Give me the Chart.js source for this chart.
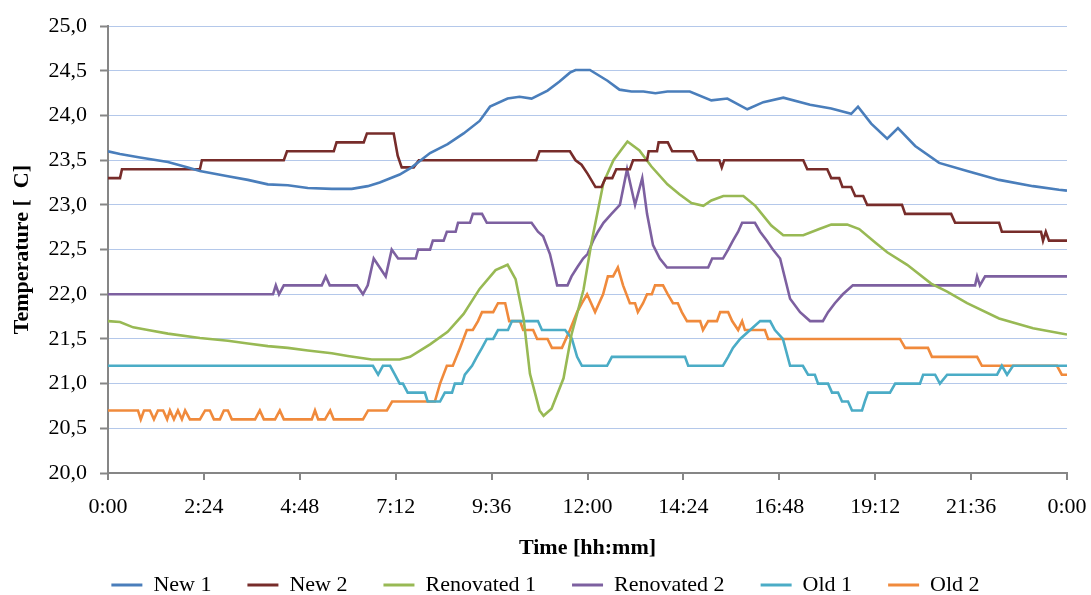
<!DOCTYPE html>
<html>
<head>
<meta charset="utf-8">
<script src="https://cdn.jsdelivr.net/npm/chart.js@4.4.1/dist/chart.umd.min.js"></script>
<style>
html,body{margin:0;padding:0;background:#fff;}
#wrap{width:1091px;height:595px;}
</style>
</head>
<body>
<div id="wrap"><canvas id="c" width="1091" height="595"></canvas></div>
<script>
// ---- data: [hour of day, temperature °C] ----
const seriesNames = ['New 1', 'New 2', 'Renovated 1', 'Renovated 2', 'Old 1', 'Old 2'];

const new1 = [[0,23.60],[0.3,23.57],[0.8,23.53],[1.5,23.48],[2.0,23.42],[2.3,23.38],[3.0,23.32],[3.5,23.28],[4.0,23.23],[4.5,23.22],[5.0,23.19],[5.6,23.18],[6.1,23.18],[6.5,23.21],[6.8,23.25],[7.3,23.34],[7.6,23.42],[8.06,23.58],[8.5,23.68],[8.9,23.80],[9.3,23.94],[9.56,24.10],[10.0,24.19],[10.3,24.21],[10.6,24.19],[11.0,24.28],[11.3,24.38],[11.56,24.48],[11.7,24.51],[12.06,24.51],[12.5,24.39],[12.8,24.29],[13.1,24.27],[13.4,24.27],[13.7,24.25],[14.0,24.27],[14.56,24.27],[15.1,24.17],[15.5,24.19],[16.0,24.07],[16.4,24.15],[16.9,24.20],[17.57,24.12],[18.1,24.08],[18.6,24.02],[18.77,24.10],[19.1,23.91],[19.5,23.74],[19.77,23.86],[20.2,23.66],[20.8,23.47],[21.5,23.38],[22.3,23.28],[23.15,23.21],[23.8,23.17],[24,23.16]];

const new2 = [[0,23.3],[0.3,23.3],[0.35,23.4],[2.3,23.4],[2.35,23.5],[4.4,23.5],[4.48,23.6],[5.65,23.6],[5.72,23.7],[6.4,23.7],[6.48,23.8],[7.15,23.8],[7.25,23.55],[7.35,23.42],[7.65,23.42],[7.78,23.5],[10.72,23.5],[10.8,23.6],[11.56,23.6],[11.7,23.5],[11.85,23.45],[12.0,23.35],[12.2,23.2],[12.35,23.2],[12.45,23.3],[12.62,23.3],[12.72,23.4],[13.06,23.4],[13.14,23.5],[13.49,23.5],[13.53,23.6],[13.74,23.6],[13.78,23.7],[14.01,23.7],[14.12,23.6],[14.64,23.6],[14.75,23.5],[15.3,23.5],[15.36,23.42],[15.42,23.5],[17.4,23.5],[17.5,23.4],[18.0,23.4],[18.1,23.3],[18.3,23.3],[18.38,23.2],[18.6,23.2],[18.7,23.1],[18.9,23.1],[19.0,23.0],[19.87,23.0],[19.95,22.9],[21.1,22.9],[21.2,22.8],[22.3,22.8],[22.37,22.7],[23.35,22.7],[23.4,22.6],[23.47,22.7],[23.55,22.6],[24,22.6]];

const renovated1 = [[0,21.70],[0.3,21.69],[0.63,21.63],[1.0,21.60],[1.5,21.56],[2.3,21.51],[3.0,21.48],[3.5,21.45],[4.0,21.42],[4.5,21.40],[5.0,21.37],[5.6,21.34],[6.0,21.31],[6.6,21.27],[7.3,21.27],[7.56,21.30],[8.06,21.44],[8.5,21.58],[8.9,21.78],[9.3,22.06],[9.7,22.27],[10.0,22.33],[10.2,22.17],[10.4,21.73],[10.56,21.11],[10.8,20.70],[10.9,20.64],[11.1,20.72],[11.4,21.06],[11.6,21.55],[11.9,22.05],[12.1,22.58],[12.4,23.25],[12.65,23.50],[13.0,23.71],[13.3,23.61],[13.6,23.43],[14.0,23.23],[14.3,23.12],[14.6,23.02],[14.9,22.99],[15.1,23.05],[15.4,23.10],[15.9,23.10],[16.2,22.99],[16.6,22.77],[16.9,22.66],[17.4,22.66],[17.8,22.73],[18.1,22.78],[18.5,22.78],[18.8,22.73],[19.2,22.58],[19.5,22.47],[20.0,22.33],[20.6,22.12],[21.0,22.03],[21.5,21.90],[22.3,21.73],[23.15,21.62],[24,21.55]];

const renovated2 = [[0,22.0],[4.13,22.0],[4.2,22.1],[4.28,22.0],[4.4,22.1],[5.35,22.1],[5.45,22.2],[5.55,22.1],[6.23,22.1],[6.38,22.0],[6.5,22.1],[6.65,22.4],[6.8,22.3],[6.95,22.2],[7.1,22.5],[7.26,22.4],[7.7,22.4],[7.76,22.5],[8.06,22.5],[8.13,22.6],[8.4,22.6],[8.48,22.7],[8.7,22.7],[8.76,22.8],[9.06,22.8],[9.13,22.9],[9.36,22.9],[9.48,22.8],[10.6,22.8],[10.76,22.7],[10.89,22.65],[11.06,22.45],[11.14,22.3],[11.24,22.1],[11.5,22.1],[11.6,22.2],[11.74,22.3],[11.89,22.4],[12.0,22.45],[12.14,22.6],[12.26,22.7],[12.4,22.8],[12.6,22.9],[12.81,23.0],[12.99,23.4],[13.19,23.0],[13.37,23.3],[13.49,22.9],[13.64,22.55],[13.81,22.4],[13.99,22.3],[15.02,22.3],[15.12,22.4],[15.39,22.4],[15.52,22.5],[15.64,22.6],[15.77,22.7],[15.87,22.8],[16.19,22.8],[16.32,22.7],[16.49,22.6],[16.64,22.5],[16.82,22.4],[17.07,21.95],[17.32,21.8],[17.57,21.7],[17.89,21.7],[18.02,21.8],[18.19,21.9],[18.39,22.0],[18.64,22.1],[21.7,22.1],[21.75,22.2],[21.82,22.1],[21.95,22.2],[24,22.2]];

const old1 = [[0,21.2],[6.63,21.2],[6.76,21.1],[6.88,21.2],[7.06,21.2],[7.18,21.1],[7.3,21.0],[7.38,21.0],[7.5,20.9],[7.93,20.9],[8.0,20.8],[8.31,20.8],[8.43,20.9],[8.61,20.9],[8.68,21.0],[8.86,21.0],[8.93,21.1],[9.11,21.2],[9.23,21.3],[9.36,21.4],[9.48,21.5],[9.64,21.5],[9.76,21.6],[10.01,21.6],[10.11,21.7],[10.76,21.7],[10.86,21.6],[11.44,21.6],[11.61,21.5],[11.74,21.3],[11.86,21.2],[12.49,21.2],[12.61,21.3],[14.44,21.3],[14.52,21.2],[15.39,21.2],[15.52,21.3],[15.64,21.4],[15.82,21.5],[16.07,21.6],[16.32,21.7],[16.57,21.7],[16.69,21.6],[16.89,21.5],[17.07,21.2],[17.39,21.2],[17.52,21.1],[17.69,21.1],[17.77,21.0],[18.02,21.0],[18.12,20.9],[18.27,20.9],[18.37,20.8],[18.52,20.8],[18.62,20.7],[18.87,20.7],[18.94,20.8],[19.02,20.9],[19.57,20.9],[19.7,21.0],[20.32,21.0],[20.4,21.1],[20.7,21.1],[20.82,21.0],[21.0,21.1],[22.25,21.1],[22.37,21.2],[22.5,21.1],[22.65,21.2],[24,21.2]];

const old2 = [[0,20.7],[0.75,20.7],[0.82,20.6],[0.9,20.7],[1.05,20.7],[1.15,20.6],[1.25,20.7],[1.38,20.7],[1.48,20.6],[1.55,20.7],[1.65,20.6],[1.75,20.7],[1.85,20.6],[1.93,20.7],[2.05,20.6],[2.3,20.6],[2.43,20.7],[2.55,20.7],[2.65,20.6],[2.8,20.6],[2.9,20.7],[3.0,20.7],[3.1,20.6],[3.68,20.6],[3.8,20.7],[3.9,20.6],[4.18,20.6],[4.3,20.7],[4.4,20.6],[5.1,20.6],[5.18,20.7],[5.26,20.6],[5.43,20.6],[5.56,20.7],[5.65,20.6],[6.38,20.6],[6.51,20.7],[6.98,20.7],[7.11,20.8],[8.18,20.8],[8.31,21.0],[8.48,21.2],[8.63,21.2],[8.81,21.4],[8.98,21.6],[9.13,21.6],[9.26,21.7],[9.36,21.8],[9.64,21.8],[9.76,21.9],[9.94,21.9],[10.04,21.7],[10.31,21.7],[10.39,21.6],[10.64,21.6],[10.74,21.5],[11.0,21.5],[11.11,21.4],[11.36,21.4],[11.56,21.6],[11.74,21.8],[11.86,21.9],[11.99,22.0],[12.19,21.8],[12.39,22.0],[12.51,22.2],[12.64,22.2],[12.76,22.3],[12.89,22.1],[13.06,21.9],[13.19,21.9],[13.26,21.8],[13.39,21.9],[13.49,22.0],[13.61,22.0],[13.69,22.1],[13.89,22.1],[14.01,22.0],[14.14,21.9],[14.26,21.9],[14.36,21.8],[14.49,21.7],[14.82,21.7],[14.89,21.6],[15.02,21.7],[15.24,21.7],[15.32,21.8],[15.52,21.8],[15.62,21.7],[15.77,21.6],[15.87,21.7],[15.94,21.6],[16.44,21.6],[16.52,21.5],[19.82,21.5],[19.95,21.4],[20.52,21.4],[20.62,21.3],[21.75,21.3],[21.87,21.2],[23.75,21.2],[23.87,21.1],[24,21.1]];

const xTickHours = [0, 2.4, 4.8, 7.2, 9.6, 12, 14.4, 16.8, 19.2, 21.6, 24];
const xTickLabels = ['0:00', '2:24', '4:48', '7:12', '9:36', '12:00', '14:24', '16:48', '19:12', '21:36', '0:00'];
const yTickMin = 20, yTickMax = 25, yTickStep = 0.5;

// ---- chart ----
const colors = ['#4A7EBB', '#772C2A', '#98B954', '#7D60A0', '#4BACC6', '#F08A3C'];
const seriesData = [new1, new2, renovated1, renovated2, old1, old2];
const FONT = "'Liberation Serif', 'Times New Roman', serif";
const AXIS = '#868686';

const datasets = seriesData.map((s, i) => ({
  label: seriesNames[i],
  data: s.map(([x, y]) => ({x, y})),
  borderColor: colors[i],
  backgroundColor: colors[i],
  borderWidth: 2.6,
  pointRadius: 0,
  tension: 0,
  fill: false
}));

new Chart(document.getElementById('c'), {
  type: 'line',
  data: {datasets},
  options: {
    responsive: false,
    animation: false,
    events: [],
    layout: {padding: {top: 22, right: 0, left: 0, bottom: -11}},
    scales: {
      x: {
        type: 'linear', min: 0, max: 24,
        afterBuildTicks: s => { s.ticks = xTickHours.map(v => ({value: v})); },
        afterFit: s => { s.height = 65; s.paddingRight = 0; s.paddingLeft = 0; },
        ticks: {
          callback: (v, i) => xTickLabels[i],
          autoSkip: false, maxRotation: 0,
          font: {family: FONT, size: 22}, color: '#000', padding: 14
        },
        grid: {drawOnChartArea: false, tickLength: 7, tickColor: AXIS, lineWidth: 2},
        border: {color: AXIS, width: 2},
        title: {display: true, text: 'Time [hh:mm]', color: '#000',
          font: {family: FONT, size: 22, weight: 'bold'}, padding: {top: 0, bottom: -24}}
      },
      y: {
        min: yTickMin, max: yTickMax,
        afterFit: s => { s.width = 108; },
        ticks: {
          stepSize: yTickStep,
          callback: v => v.toFixed(1).replace('.', ','),
          font: {family: FONT, size: 22}, color: '#000', padding: 13
        },
        grid: {color: '#B4C8EA', lineWidth: 1, tickColor: AXIS, tickLength: 8, tickWidth: 2},
        border: {color: AXIS, width: 2},
        title: {display: true, text: 'Temperature [  C]', color: '#000',
          font: {family: FONT, size: 22, weight: 'bold'}, padding: {top: 9, bottom: 0}}
      },
      yRight: {
        position: 'right', display: true,
        afterFit: s => { s.width = 24; s.paddingTop = 0; s.paddingBottom = 0; },
        grid: {display: false}, ticks: {display: false}, border: {display: false}
      }
    },
    plugins: {
      tooltip: {enabled: false},
      legend: {
        position: 'bottom',
        labels: {
          font: {family: FONT, size: 22}, color: '#000',
          boxWidth: 31, boxHeight: 3, padding: 36,
          generateLabels: chart => Chart.defaults.plugins.legend.labels.generateLabels(chart)
            .map(l => Object.assign(l, {lineWidth: 0, fillStyle: l.strokeStyle}))
        }
      }
    }
  }
});
</script>
</body>
</html>
